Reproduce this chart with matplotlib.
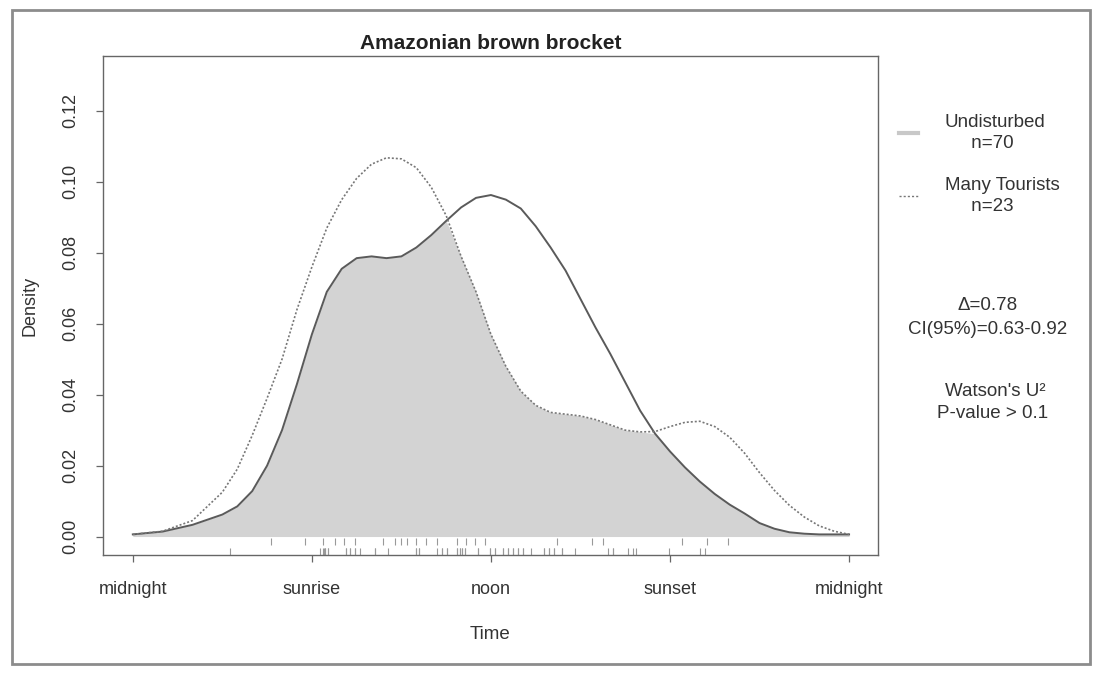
import numpy as np
import matplotlib
matplotlib.use("Agg")
import matplotlib.pyplot as plt
from matplotlib.patches import Rectangle
from matplotlib.lines import Line2D

plt.rcParams['font.family'] = ['Liberation Sans', 'DejaVu Sans']

# kernel density of activity, hours after midnight
hours = [0, 1, 2, 3, 3.5, 4, 4.5, 5, 5.5, 6, 6.5, 7, 7.5, 8, 8.5, 9, 9.5, 10,
         10.5, 11, 11.5, 12, 12.5, 13, 13.5, 14, 14.5, 15, 15.5, 16, 16.5, 17,
         17.5, 18, 18.5, 19, 19.5, 20, 20.5, 21, 21.5, 22, 22.5, 23, 23.5, 24]

undisturbed = [0.0006, 0.0014, 0.0033, 0.0062, 0.0085, 0.0128, 0.020, 0.030,
               0.043, 0.057, 0.069, 0.0755, 0.0785, 0.079, 0.0785, 0.079,
               0.0815, 0.085, 0.089, 0.0928, 0.0955, 0.0963, 0.095, 0.0925,
               0.0875, 0.0815, 0.075, 0.067, 0.059, 0.0515, 0.0435, 0.0355,
               0.029, 0.024, 0.0195, 0.0155, 0.012, 0.009, 0.0065, 0.0038,
               0.0022, 0.0012, 0.0008, 0.0006, 0.0006, 0.0006]

tourists = [0.0006, 0.0015, 0.0045, 0.0125, 0.019, 0.0285, 0.039, 0.050,
            0.064, 0.076, 0.087, 0.095, 0.101, 0.105, 0.1068, 0.1065, 0.104,
            0.0985, 0.0905, 0.079, 0.069, 0.057, 0.048, 0.041, 0.037, 0.035,
            0.0345, 0.034, 0.033, 0.0315, 0.030, 0.0295, 0.0296, 0.031,
            0.0322, 0.0325, 0.031, 0.028, 0.0235, 0.018, 0.013, 0.0088,
            0.0055, 0.003, 0.0015, 0.0006]

# detection times for the rug
undisturbed_obs = [3.25, 6.28, 6.36, 6.40, 6.45, 6.53, 6.53, 7.13, 7.27, 7.27,
                   7.44, 7.61, 8.13, 8.55, 9.49, 9.58, 9.58, 10.18, 10.35,
                   10.35, 10.52, 10.86, 10.95, 10.95, 11.03, 11.12, 11.12,
                   11.55, 11.97, 12.15, 12.15, 12.40, 12.57, 12.57, 12.74,
                   12.92, 13.09, 13.09, 13.34, 13.77, 13.94, 13.94, 14.11,
                   14.37, 14.80, 15.91, 16.08, 16.59, 16.76, 16.85, 17.96,
                   18.99, 19.16, 7.44, 11.03, 12.40, 10.86, 6.45, 14.11,
                   13.77, 12.74, 11.97, 10.52, 9.49, 7.13, 8.13, 12.92,
                   14.37, 16.08, 11.55]
tourist_obs = [4.62, 5.76, 6.36, 6.76, 7.06, 7.44, 8.38, 8.78, 8.98, 9.19,
               9.49, 9.84, 10.18, 10.86, 11.17, 11.46, 11.80, 14.20, 15.40,
               15.74, 18.39, 19.24, 19.96]

tick_pos = [0, 6, 12, 18, 24]
tick_labels = ['midnight', 'sunrise', 'noon', 'sunset', 'midnight']
delta_hat = 0.78
ci_low, ci_high = 0.63, 0.92

fig = plt.figure(figsize=(11, 6.74), dpi=100)
ax = fig.add_axes([0.0936, 0.1766, 0.7046, 0.7403])

h = np.array(hours)
und = np.array(undisturbed)
tou = np.array(tourists)

# overlap area
ax.fill_between(h, 0, np.minimum(und, tou), color='#d3d3d3', lw=0)
ax.plot(h, und, color='#5a5a5a', lw=1.4, solid_joinstyle='round')
ax.plot(h, tou, color='#777777', lw=1.2, ls=(0, (1.2, 1.2)))

ax.vlines(tourist_obs, -0.0003, -0.0023, color='#999999', lw=0.8)
ax.vlines(undisturbed_obs, -0.0031, -0.0051, color='#999999', lw=0.8)

ax.set_xlim(-1.0, 24.97)
ax.set_ylim(-0.0052, 0.1355)
ax.set_xticks(tick_pos)
ax.set_xticklabels(tick_labels)
ax.set_yticks(np.arange(0, 0.121, 0.02))
ax.set_yticklabels(['%.2f' % v for v in np.arange(0, 0.121, 0.02)],
                   rotation=90, va='center')

for s in ax.spines.values():
    s.set_color('#666666')
    s.set_linewidth(1.0)
ax.tick_params(axis='both', direction='out', length=5, width=0.9,
               color='#666666', labelcolor='#333333', labelsize=13)
ax.tick_params(axis='x', pad=14)
ax.tick_params(axis='y', pad=12)

ax.set_title('Amazonian brown brocket', fontsize=15, fontweight='bold',
             color='#222222', pad=5)
ax.set_xlabel('Time', fontsize=13.5, color='#333333', labelpad=20)
ax.set_ylabel('Density', fontsize=13, color='#333333', labelpad=17)

handles = [Line2D([], [], color='#c8c8c8', lw=3),
           Line2D([], [], color='#777777', lw=1.0, ls=(0, (1.5, 1.5)))]
labels = ['Undisturbed\n     n=70', 'Many Tourists\n     n=23']
leg = ax.legend(handles, labels, loc='upper left',
                bbox_to_anchor=(1.005, 0.918), frameon=False, fontsize=13.5,
                handlelength=1.05, handletextpad=1.4, labelspacing=1.3,
                labelcolor='#333333')
for t in leg.get_texts():
    t.set_linespacing(1.35)

fig.text(988 / 1100, 1 - 306 / 674, '\u0394=%.2f' % delta_hat, ha='center',
         va='center', fontsize=13.5, color='#333333')
fig.text(988 / 1100, 1 - 330 / 674, 'CI(95%%)=%.2f-%.2f' % (ci_low, ci_high),
         ha='center', va='center', fontsize=13.5, color='#333333')
fig.text(995 / 1100, 1 - 392 / 674, "Watson's U\u00b2", ha='center',
         va='center', fontsize=13.5, color='#333333')
fig.text(993 / 1100, 1 - 414 / 674, 'P-value > 0.1', ha='center',
         va='center', fontsize=13.5, color='#333333')

fig.patches.append(Rectangle((12 / 1100, 10 / 674), 1078 / 1100, 654 / 674,
                             transform=fig.transFigure, fill=False,
                             edgecolor='#8c8c8c', lw=2))

fig.savefig('out.png', dpi=100)
